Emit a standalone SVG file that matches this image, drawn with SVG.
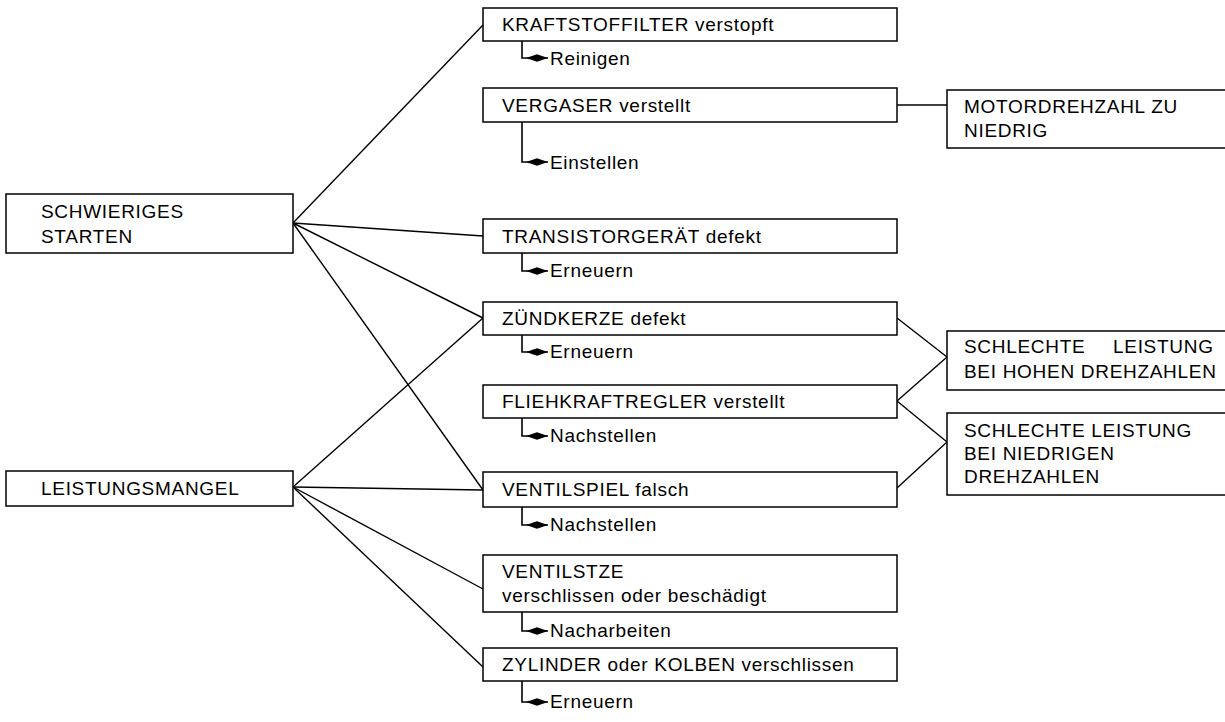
<svg xmlns="http://www.w3.org/2000/svg" width="1225" height="722" viewBox="0 0 1225 722">
<defs>
<style>
.box{fill:#fff;stroke:#000;stroke-width:1.5}
.t{font-family:"Liberation Sans",Arial,sans-serif;font-size:19px;letter-spacing:0.7px;fill:#000}
.c{fill:none;stroke:#000;stroke-width:1.4}
.a{fill:none;stroke:#000;stroke-width:1.6;marker-end:url(#arr)}
</style>
<marker id="arr" markerUnits="userSpaceOnUse" viewBox="0 0 22 8" refX="22" refY="4" markerWidth="22" markerHeight="8" orient="auto">
<path d="M0,4 L11,0.2 L22,4 L11,7.8 Z" fill="#000"/>
</marker>
</defs>
<rect width="1225" height="722" fill="#fff"/>
<g id="connectors">
<path class="c" d="M293,223 L483,25"/>
<path class="c" d="M293,223 L483,236"/>
<path class="c" d="M293,223 L483,318"/>
<path class="c" d="M293,223 L483,490"/>
<path class="c" d="M293,487 L483,318"/>
<path class="c" d="M293,487 L483,490"/>
<path class="c" d="M293,487 L483,589"/>
<path class="c" d="M293,487 L483,667"/>
<path class="c" d="M897,105 L947,105"/>
<path class="c" d="M897,318 L947,357"/>
<path class="c" d="M897,401 L947,357"/>
<path class="c" d="M897,401 L947,442"/>
<path class="c" d="M897,488 L947,442"/>
<path class="a" d="M522,41 V58 H548"/>
<path class="a" d="M522,122 V162 H548"/>
<path class="a" d="M522,253 V271 H548"/>
<path class="a" d="M522,335 V352 H548"/>
<path class="a" d="M522,418 V436 H548"/>
<path class="a" d="M522,507 V525 H548"/>
<path class="a" d="M522,612 V631 H548"/>
<path class="a" d="M522,681 V702 H548"/>
</g>
<g id="schwieriges-starten">
<rect class="box" x="6" y="194" width="287" height="59"/>
<text class="t" x="41" y="218">SCHWIERIGES</text>
<text class="t" x="41" y="243">STARTEN</text>
</g>
<g id="leistungsmangel">
<rect class="box" x="6" y="471" width="287" height="35"/>
<text class="t" x="41" y="495">LEISTUNGSMANGEL</text>
</g>
<g id="kraftstofffilter">
<rect class="box" x="483" y="8" width="414" height="33"/>
<text class="t" x="502" y="31">KRAFTSTOFFILTER verstopft</text>
<text class="t" x="550" y="65">Reinigen</text>
</g>
<g id="vergaser">
<rect class="box" x="483" y="88" width="414" height="34"/>
<text class="t" x="502" y="112">VERGASER verstellt</text>
<text class="t" x="550" y="169">Einstellen</text>
</g>
<g id="motordrehzahl">
<rect class="box" x="947" y="90" width="300" height="58"/>
<text class="t" x="964" y="113">MOTORDREHZAHL ZU</text>
<text class="t" x="964" y="137">NIEDRIG</text>
</g>
<g id="transistorgeraet">
<rect class="box" x="483" y="219" width="414" height="34"/>
<text class="t" x="502" y="243">TRANSISTORGERÄT defekt</text>
<text class="t" x="550" y="277">Erneuern</text>
</g>
<g id="zuendkerze">
<rect class="box" x="483" y="302" width="414" height="33"/>
<text class="t" x="502" y="325">ZÜNDKERZE defekt</text>
<text class="t" x="550" y="358">Erneuern</text>
</g>
<g id="fliehkraftregler">
<rect class="box" x="483" y="385" width="414" height="33"/>
<text class="t" x="502" y="408">FLIEHKRAFTREGLER verstellt</text>
<text class="t" x="550" y="442">Nachstellen</text>
</g>
<g id="ventilspiel">
<rect class="box" x="483" y="472" width="414" height="35"/>
<text class="t" x="502" y="496">VENTILSPIEL falsch</text>
<text class="t" x="550" y="531">Nachstellen</text>
</g>
<g id="ventilsitze">
<rect class="box" x="483" y="555" width="414" height="57"/>
<text class="t" x="502" y="578">VENTILSTZE</text>
<text class="t" x="502" y="602">verschlissen oder beschädigt</text>
<text class="t" x="550" y="637">Nacharbeiten</text>
</g>
<g id="zylinder">
<rect class="box" x="483" y="648" width="414" height="33"/>
<text class="t" x="502" y="671">ZYLINDER oder KOLBEN verschlissen</text>
<text class="t" x="550" y="708">Erneuern</text>
</g>
<g id="leistung-hoch">
<rect class="box" x="947" y="331" width="300" height="59"/>
<text class="t" x="964" y="353">SCHLECHTE<tspan x="1113">LEISTUNG</tspan></text>
<text class="t" x="964" y="378">BEI HOHEN DREHZAHLEN</text>
</g>
<g id="leistung-niedrig">
<rect class="box" x="947" y="413" width="300" height="82"/>
<text class="t" x="964" y="437">SCHLECHTE LEISTUNG</text>
<text class="t" x="964" y="460">BEI NIEDRIGEN</text>
<text class="t" x="964" y="483">DREHZAHLEN</text>
</g>
</svg>
